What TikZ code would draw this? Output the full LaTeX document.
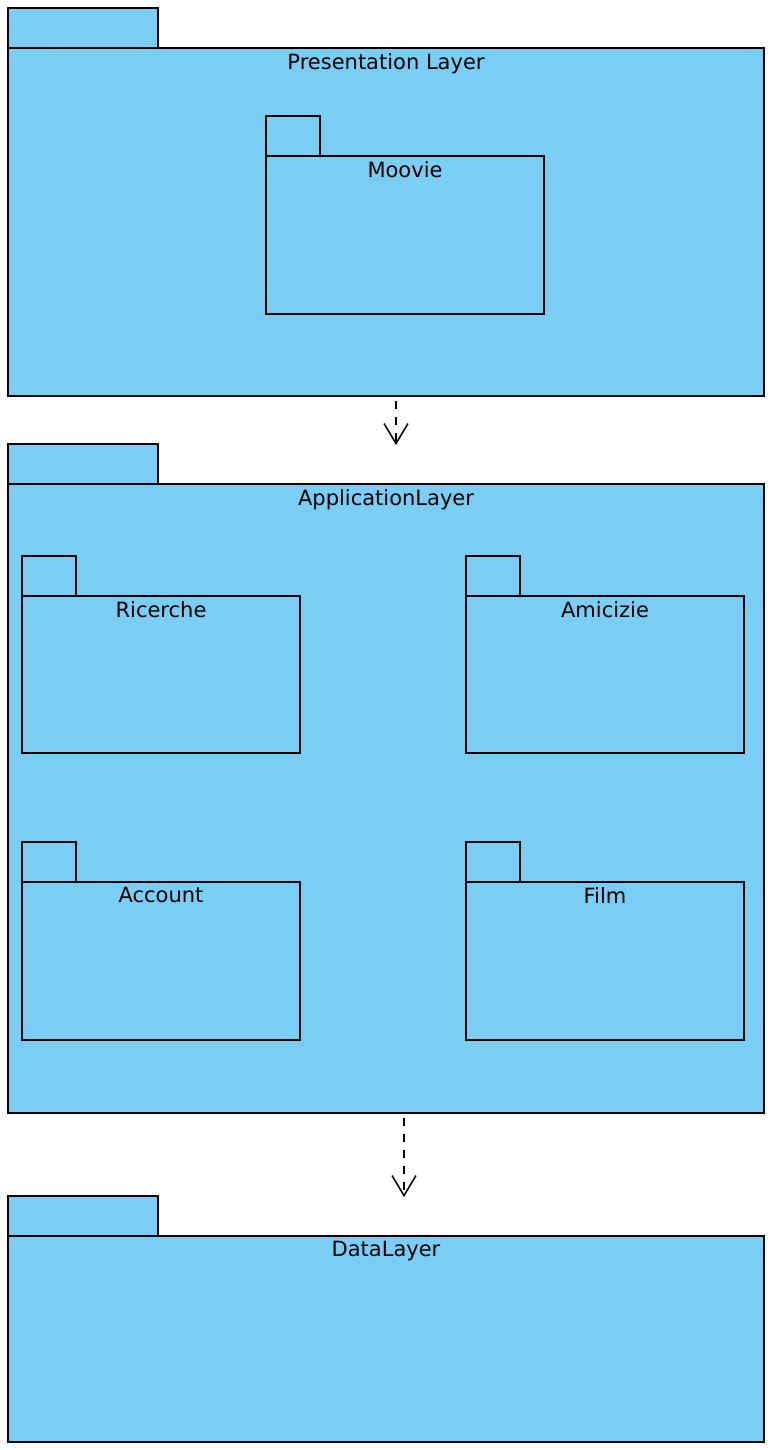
\documentclass[tikz,border=0pt]{standalone}
\usepackage{fontspec}
\setmainfont{DejaVu Sans}
\usetikzlibrary{arrows.meta}
\definecolor{pkgfill}{HTML}{7ACEF4}
\tikzset{
  pkg/.style={draw=black, fill=pkgfill, line width=1.5pt, anchor=north west, inner sep=0pt, outer sep=0pt},
  ttl/.style={anchor=north, inner sep=0pt, font=\fontsize{21}{25}\selectfont, yshift=-5pt},
  dep/.style={draw=black, line width=1.5pt, dash pattern=on 8pt off 8pt, -{Straight Barb[length=20pt,width=24pt,line width=1.5pt]}}
}
\begin{document}
\begin{tikzpicture}[x=1pt,y=-1pt]
\useasboundingbox (0,0) rectangle (774,1450);
% Presentation layer
\node[pkg, minimum width=150pt, minimum height=40pt] (presTab) at (8,8) {};
\node[pkg, minimum width=756pt, minimum height=348pt] (pres) at (8,48) {};
\node[ttl] (presT) at (pres.north) {Presentation Layer};
\node[pkg, minimum width=54pt, minimum height=40pt] (moovTab) at (266,116) {};
\node[pkg, minimum width=278pt, minimum height=158pt] (moov) at (266,156) {};
\node[ttl] (moovT) at (moov.north) {Moovie};
% Application layer
\node[pkg, minimum width=150pt, minimum height=40pt] (appTab) at (8,444) {};
\node[pkg, minimum width=756pt, minimum height=629pt] (app) at (8,484) {};
\node[ttl] (appT) at (app.north) {ApplicationLayer};
\node[pkg, minimum width=54pt, minimum height=40pt] (ricTab) at (22,556) {};
\node[pkg, minimum width=278pt, minimum height=157pt] (ric) at (22,596) {};
\node[ttl] (ricT) at (ric.north) {Ricerche};
\node[pkg, minimum width=54pt, minimum height=40pt] (amiTab) at (466,556) {};
\node[pkg, minimum width=278pt, minimum height=157pt] (ami) at (466,596) {};
\node[ttl] (amiT) at (ami.north) {Amicizie};
\node[pkg, minimum width=54pt, minimum height=40pt] (accTab) at (22,842) {};
\node[pkg, minimum width=278pt, minimum height=158pt] (acc) at (22,882) {};
\node[ttl] (accT) at (acc.north) {Account};
\node[pkg, minimum width=54pt, minimum height=40pt] (filmTab) at (466,842) {};
\node[pkg, minimum width=278pt, minimum height=158pt] (film) at (466,882) {};
\node[ttl] (filmT) at (film.north) {Film};
% Data layer
\node[pkg, minimum width=150pt, minimum height=40pt] (dataTab) at (8,1196) {};
\node[pkg, minimum width=756pt, minimum height=206pt] (data) at (8,1236) {};
\node[ttl] (dataT) at (data.north) {DataLayer};
% dependencies
\draw[dep] ([xshift=10pt]pres.south) ++(0,5) -- ([xshift=10pt,yshift=-1pt]appTab.north -| pres.south);
\draw[dep] ([xshift=18pt]app.south) ++(0,5) -- ([xshift=18pt,yshift=-1pt]dataTab.north -| app.south);
\end{tikzpicture}
\end{document}
